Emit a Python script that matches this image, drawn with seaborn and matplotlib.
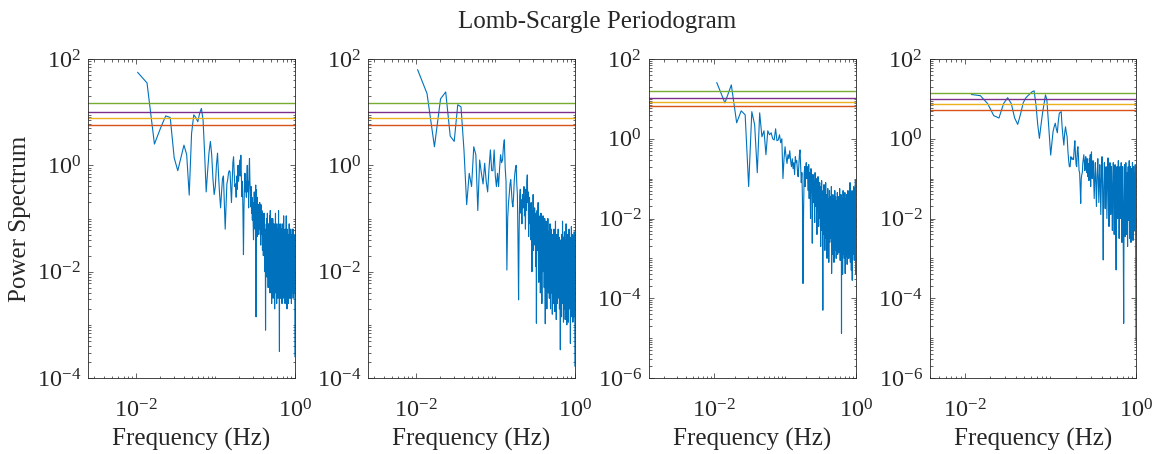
import numpy as np
import matplotlib
matplotlib.use("Agg")
import matplotlib.pyplot as plt
import seaborn as sns
from matplotlib.ticker import FixedLocator, LogLocator, NullFormatter, LogFormatterSciNotation

# Lomb-Scargle spectra of four records, evaluated on a uniform frequency grid
FREQ_STEP = 0.0033  # Hz
start_freqs = [0.0105, 0.0105, 0.0109, 0.0120]

# log10 of the normalised power at each grid frequency
log_power_1 = [
    1.75, 1.55, 0.40, 0.70, 0.93, 0.90, 0.14, -0.10, 0.15, 0.38,
    0.20, -0.56, 0.60, 0.95, 0.90, 0.82, 0.98, 1.07, 0.85, 0.20,
    -0.50, -0.10, 0.25, 0.45, 0.20, -0.25, -0.55, -0.40, 0.00, 0.23,
    -0.20, -0.55, -0.80, -0.50, -0.25, -0.20, -0.70, -1.20, -0.75, -0.35,
    -0.27, -0.15, -0.10, -0.12, -0.40, -0.70, -0.30, 0.05, 0.16, -0.15,
    -0.40, -0.35, -0.60, -0.20, -0.45, 0.00, -0.30, -0.10, 0.10, -0.20,
    0.19, -0.20, -0.59, -0.30, -0.90, -1.68, -0.80, -0.40, -0.15, -0.50,
    -0.30, -0.60, -0.20, 0.00, -0.50, -0.30, -0.80, -0.10, 0.13, -0.30,
    -0.50, -0.78, -0.40, -0.90, -0.60, -1.03, -0.70, -1.10, -1.40, -0.80,
    -0.50, -0.90, -1.20, -0.60, -0.37, -2.85, -0.46, -1.00, -0.60, -1.34,
    -0.80, -1.10, -0.74, -1.30, -0.90, -1.15, -0.70, -1.20, -0.80, -1.50,
    -0.74, -1.00, -1.30, -0.85, -1.20, -1.60, -0.90, -1.10, -1.70, -1.00,
    -1.20, -0.90, -1.50, -1.10, -2.00, -1.30, -3.10, -1.80, -1.20, -1.60,
    -1.00, -2.10, -1.40, -0.90, -1.70, -1.30, -2.30, -1.10, -1.50, -1.90,
    -1.20, -2.00, -0.95, -1.60, -2.40, -0.85, -1.80, -1.30, -2.20, -1.00,
    -1.50, -2.60, -1.20, -1.90, -1.40, -2.10, -1.00, -1.70, -2.50, -1.30,
    -1.60, -2.30, -1.10, -1.90, -1.40, -2.70, -1.20, -1.80, -2.20, -0.90,
    -1.60, -2.40, -1.30, -2.00, -1.50, -2.60, -1.10, -1.80, -2.30, -1.40,
    -1.90, -1.20, -2.50, -1.60, -2.10, -0.85, -2.40, -1.50, -1.90, -2.80,
    -3.50, -1.30, -1.70, -2.20, -1.10, -2.00, -1.60, -2.50, -1.30, -1.90,
    -1.50, -2.30, -1.20, -2.00, -1.70, -2.60, -1.10, -1.80, -2.20, -1.40,
    -2.00, -1.30, -2.50, -1.60, -1.90, -0.95, -2.30, -1.70, -2.10, -1.40,
    -2.40, -1.30, -1.90, -1.50, -2.60, -1.20, -2.00, -1.70, -2.30, -1.40,
    -1.80, -2.50, -0.95, -2.00, -1.60, -2.20, -1.30, -2.70, -1.50, -1.90,
    -1.20, -2.40, -1.70, -2.00, -1.40, -2.30, -1.60, -2.60, -1.30, -1.90,
    -2.20, -1.50, -2.40, -1.10, -1.80, -2.10, -1.40, -2.50, -1.70, -2.00,
    -1.30, -2.20, -1.60, -2.50, -1.20, -1.90, -2.30, -1.50, -2.00, -1.40,
    -2.60, -1.70, -2.10, -1.30, -2.40, -1.60, -1.90, -2.20, -1.20, -2.00,
    -1.50, -2.30, -1.80, -1.20, -2.50, -1.60, -2.00, -1.40, -2.20, -1.70,
    -2.40, -1.30, -1.90, -2.10, -1.50, -2.30, -1.60, -2.00, -1.80, -3.60,
]

log_power_2 = [
    1.80, 1.35, 0.35, 1.25, 1.38, 0.55, 0.45, 1.14, 1.10, 0.29,
    -0.74, -0.15, -0.40, 0.35, 0.20, -0.85, 0.10, -0.15, -0.35, 0.04,
    -0.30, -0.50, -0.05, 0.29, -0.10, -0.10, 0.29, -0.20, -0.40, -0.15,
    -0.40, -0.05, 0.20, 0.05, 0.10, 0.35, 0.48, -0.05, -0.30, -1.97,
    -1.00, -0.71, -0.55, -0.35, -0.27, -0.50, -0.70, -0.78, -0.60, -0.30,
    -0.15, -0.05, 0.00, -0.35, -0.55, -1.40, -2.53, -1.20, -0.60, -0.45,
    -0.90, -0.65, -1.10, -0.55, -0.80, -0.70, -0.40, -0.95, -0.60, -1.20,
    -0.45, -0.85, -0.30, -0.18, -0.70, -0.50, -1.34, -0.90, -0.60, -1.10,
    -0.75, -1.40, -0.70, -1.00, -2.00, -0.85, -1.25, -0.55, -1.60, -1.00,
    -1.30, -0.80, -1.50, -1.05, -1.90, -0.90, -2.97, -1.20, -0.85, -1.60,
    -1.10, -0.70, -1.45, -2.20, -0.95, -1.30, -1.80, -1.00, -2.40, -1.20,
    -0.90, -1.70, -1.35, -2.60, -1.05, -1.50, -2.00, -0.95, -1.40, -1.85,
    -1.15, -2.30, -1.50, -1.00, -1.90, -2.98, -1.30, -1.70, -1.05, -2.20,
    -1.45, -2.70, -1.20, -1.60, -2.05, -1.00, -1.80, -2.40, -1.35, -1.95,
    -1.25, -2.50, -1.60, -2.10, -1.10, -1.85, -2.70, -1.40, -2.20, -1.70,
    -1.20, -2.40, -1.55, -2.00, -2.80, -1.30, -1.90, -2.30, -1.45, -2.60,
    -1.70, -2.10, -1.20, -2.50, -1.90, -1.40, -2.75, -1.60, -2.20, -1.05,
    -1.80, -2.45, -1.50, -2.90, -1.95, -1.30, -2.30, -1.75, -2.60, -1.40,
    -2.00, -1.60, -2.50, -1.20, -2.20, -2.40, -1.70, -2.40, -1.35, -2.00,
    -2.70, -1.50, -2.25, -1.80, -2.90, -3.47, -2.10, -1.65, -2.50, -1.40,
    -2.30, -1.75, -2.85, -1.30, -2.00, -2.55, -1.50, -2.20, -1.05, -1.90,
    -2.60, -1.45, -2.35, -1.70, -2.95, -1.35, -2.05, -2.50, -1.60, -2.20,
    -1.25, -2.70, -1.80, -2.30, -1.50, -2.90, -2.00, -1.40, -2.45, -1.75,
    -2.20, -1.10, -2.60, -1.85, -2.35, -1.55, -3.00, -1.70, -2.15, -1.45,
    -2.50, -1.90, -2.25, -1.30, -2.80, -1.65, -2.10, -2.95, -1.50, -2.35,
    -1.80, -2.60, -1.20, -2.15, -1.95, -2.70, -1.55, -2.40, -1.35, -2.05,
    -2.65, -1.60, -3.35, -1.85, -2.30, -1.40, -2.75, -2.00, -1.55, -2.50,
    -1.15, -2.20, -1.90, -2.85, -1.45, -2.35, -1.70, -2.60, -2.10, -1.30,
    -2.45, -1.80, -2.95, -1.60, -2.20, -1.35, -2.70, -1.95, -2.40, -1.50,
    -2.85, -1.75, -2.15, -1.25, -2.55, -1.90, -2.30, -1.65, -2.60, -3.78,
]

log_power_3 = [
    1.41, 0.90, 1.35, 0.40, 0.70, 0.60, -1.20, 0.68, 0.35, -0.85,
    0.65, 0.05, 0.20, -0.40, 0.20, 0.10, 0.15, 0.00, -0.03, 0.25,
    -0.05, -0.03, 0.10, -0.10, 0.00, -1.00, -0.50, -0.20, -0.45, -0.62,
    -0.40, -0.50, -0.30, -0.55, -0.70, -0.50, -0.75, -0.60, -0.90, -0.45,
    -0.60, -0.55, -0.80, -0.95, -0.70, -0.40, -0.28, -0.70, -1.10, -0.85,
    -1.50, -3.63, -1.80, -0.90, -0.70, -1.20, -0.80, -0.60, -1.00, -0.70,
    -0.95, -1.30, -0.65, -1.50, -0.85, -1.10, -2.00, -0.75, -1.35, -0.90,
    -2.62, -1.20, -0.90, -1.60, -1.05, -1.40, -2.10, -0.85, -1.30, -1.70,
    -1.00, -1.55, -2.40, -1.15, -1.80, -0.95, -1.45, -2.20, -1.25, -1.65,
    -1.10, -2.00, -1.40, -2.70, -1.20, -1.75, -1.05, -2.30, -1.50, -1.90,
    -4.30, -1.30, -1.70, -2.40, -1.15, -2.00, -1.60, -2.80, -1.35, -1.90,
    -1.10, -2.50, -1.70, -2.20, -1.40, -3.00, -1.55, -2.10, -1.25, -1.85,
    -2.40, -1.50, -3.10, -1.80, -2.20, -1.30, -2.60, -1.90, -1.45, -2.00,
    -2.00, -1.65, -2.50, -1.20, -3.38, -2.80, -1.55, -2.30, -1.75, -2.90,
    -1.40, -2.25, -1.85, -2.60, -1.50, -3.10, -2.00, -1.60, -2.45, -1.30,
    -2.80, -1.95, -2.20, -1.45, -2.65, -1.75, -3.00, -2.10, -1.55, -2.40,
    -1.85, -2.70, -1.35, -2.20, -2.90, -1.60, -2.40, -2.40, -1.90, -2.50,
    -1.45, -2.15, -2.85, -1.70, -2.30, -1.25, -2.60, -2.00, -3.05, -1.55,
    -2.25, -1.80, -2.75, -1.40, -2.45, -2.05, -4.88, -1.65, -2.35, -1.90,
    -2.70, -1.50, -2.20, -3.40, -1.85, -2.55, -1.30, -2.10, -2.90, -1.60,
    -2.40, -1.95, -2.65, -1.45, -3.00, -2.15, -1.75, -2.80, -1.35, -2.30,
    -3.38, -1.90, -2.50, -1.60, -2.20, -2.95, -1.50, -2.35, -1.85, -2.70,
    -1.40, -2.10, -2.60, -1.70, -3.15, -2.00, -1.55, -2.45, -1.90, -2.85,
    -1.30, -2.25, -1.80, -2.70, -1.50, -2.40, -3.00, -1.65, -2.15, -2.55,
    -1.35, -2.30, -1.85, -2.90, -1.60, -2.20, -1.10, -2.65, -2.00, -3.10,
    -1.45, -2.35, -1.75, -2.80, -1.55, -2.50, -1.95, -3.30, -1.40, -2.25,
    -2.05, -1.60, -2.75, -1.30, -2.40, -3.55, -1.85, -2.15, -1.50, -2.60,
    -1.95, -2.90, -1.40, -2.30, -1.70, -2.85, -2.10, -1.55, -2.45, -1.20,
    -2.65, -1.80, -2.20, -3.05, -1.45, -2.50, -1.90, -2.75, -1.35, -2.30,
    -1.65, -2.95, -1.50, -2.20, -1.05, -2.60, -1.85, -3.38, -1.60, -2.40,
]

log_power_4 = [
    1.11, 1.08, 0.88, 0.58, 0.52, 0.88, 1.03, 0.88, 0.52, 0.36,
    0.62, 0.90, 1.02, 1.08, 1.13, 1.18, 1.20, 0.85, 0.35, 0.01,
    0.35, 0.65, 0.88, 1.10, 0.98, 0.50, 0.00, -0.41, -0.10, 0.18,
    0.30, 0.39, 0.25, 0.15, 0.45, 0.64, 0.66, 0.68, 0.30, 0.05,
    -0.16, 0.15, 0.30, 0.15, 0.05, -0.30, -0.55, -0.70, -0.70, -0.45,
    -0.50, -0.52, -0.48, -0.52, -0.25, -0.05, -0.40, -0.65, -0.70, -0.30,
    -0.20, -0.45, -0.80, -0.85, -1.20, -1.62, -1.00, -0.90, -0.85, -0.60,
    -0.50, -0.40, -0.60, -0.80, -0.55, -0.45, -0.75, -0.85, -0.50, -0.95,
    -0.62, -0.70, -1.05, -0.50, -0.85, -0.40, -1.20, -0.65, -0.33, -0.90,
    -1.00, -0.75, -0.55, -0.80, -1.20, -1.50, -1.10, -0.80, -0.60, -0.90,
    -1.35, -1.70, -1.30, -0.95, -0.70, -0.50, -0.85, -1.25, -1.60, -1.20,
    -0.90, -0.65, -0.90, -1.40, -1.90, -1.45, -1.00, -0.75, -0.45, -0.80,
    -1.30, -2.10, -3.04, -1.90, -1.20, -0.85, -0.60, -0.90, -1.40, -1.75,
    -1.30, -0.95, -0.70, -1.00, -1.50, -2.00, -1.55, -1.05, -0.75, -0.48,
    -0.75, -1.15, -1.70, -2.20, -1.60, -1.10, -0.80, -0.60, -0.95, -1.45,
    -1.90, -1.40, -1.00, -0.70, -0.95, -1.35, -1.85, -2.30, -1.70, -1.20,
    -0.85, -0.60, -0.90, -1.30, -1.80, -2.40, -1.75, -1.25, -0.90, -0.65,
    -1.00, -1.55, -2.10, -2.80, -3.29, -2.30, -1.50, -1.00, -0.70, -1.05,
    -1.50, -2.00, -1.50, -1.05, -0.75, -0.55, -0.85, -1.30, -1.85, -2.50,
    -1.90, -1.30, -0.95, -0.70, -1.00, -1.45, -2.00, -1.55, -1.10, -0.80,
    -0.60, -0.95, -1.45, -2.05, -2.60, -1.90, -1.35, -0.95, -0.70, -1.05,
    -1.50, -2.10, -2.90, -3.80, -4.63, -3.20, -2.00, -1.30, -0.90, -0.65,
    -0.95, -1.40, -1.95, -2.45, -1.80, -1.25, -0.85, -0.60, -0.90, -1.35,
    -1.90, -2.40, -1.75, -1.20, -0.85, -1.10, -1.60, -2.20, -2.70, -2.00,
    -1.40, -0.95, -0.70, -1.00, -1.50, -2.05, -1.55, -1.05, -0.75, -0.55,
    -0.90, -1.40, -1.95, -2.50, -1.85, -1.30, -0.95, -0.70, -1.05, -1.55,
    -2.10, -2.60, -1.90, -1.35, -1.00, -0.75, -1.10, -1.60, -2.15, -1.60,
    -1.10, -0.80, -0.60, -0.95, -1.45, -2.00, -2.55, -1.85, -1.30, -0.90,
    -0.70, -1.05, -1.55, -2.10, -1.60, -1.15, -0.85, -1.20, -1.75, -2.30,
    -1.70, -1.20, -0.85, -0.65, -1.00, -1.50, -2.10, -2.80, -3.80, -5.05,
]

# significance levels of each periodogram (power units)
thresholds = [
    [5.7, 7.7, 10.1, 14.7],
    [5.7, 7.7, 10.1, 14.7],
    [6.5, 8.3, 10.7, 15.5],
    [5.3, 7.3, 9.7, 14.3],
]
threshold_colors = ["#D95319", "#EDB120", "#7E2F8E", "#77AC30"]
spectrum_color = "#0072BD"

x_limits = [(0.0025, 1.0), (0.0025, 1.0), (0.00119, 1.0), (0.0039, 1.0)]
y_limits = [(1e-4, 1e2), (1e-4, 1e2), (1e-6, 1e2), (1e-6, 1e2)]
y_major = [[1e-4, 1e-2, 1e0, 1e2], [1e-4, 1e-2, 1e0, 1e2],
           [1e-6, 1e-4, 1e-2, 1e0, 1e2], [1e-6, 1e-4, 1e-2, 1e0, 1e2]]
x_major = [1e-2, 1e0]

sns.set_style("ticks")
plt.rcParams["font.family"] = ["Liberation Serif", "DejaVu Serif"]
plt.rcParams["mathtext.fontset"] = "custom"
plt.rcParams["mathtext.rm"] = "Liberation Serif"
plt.rcParams["mathtext.it"] = "Liberation Serif:italic"
plt.rcParams["mathtext.bf"] = "Liberation Serif:bold"
plt.rcParams["axes.unicode_minus"] = False
plt.rcParams["axes.edgecolor"] = "#262626"
plt.rcParams["axes.linewidth"] = 0.6

fig = plt.figure(figsize=(11.57, 4.54), dpi=100)
axes_boxes = [
    (88, 295), (368, 575), (648.5, 856), (929.5, 1136),
]
W, H = 1157.0, 454.0
top_px, bottom_px = 59.0, 378.0

spectra = [log_power_1, log_power_2, log_power_3, log_power_4]
tick_fs = 17.5
label_fs = 18

for k, (lp, f0) in enumerate(zip(spectra, start_freqs)):
    left, right = axes_boxes[k]
    ax = fig.add_axes([left / W, 1 - bottom_px / H, (right - left) / W, (bottom_px - top_px) / H])
    ax.set_xscale("log")
    ax.set_yscale("log")
    freqs = f0 + FREQ_STEP * np.arange(len(lp))
    power = 10.0 ** np.asarray(lp)
    sns.lineplot(x=freqs, y=power, ax=ax, color=spectrum_color, linewidth=0.8,
                 estimator=None, sort=False)
    for level, col in zip(thresholds[k], threshold_colors):
        ax.axhline(level, color=col, linewidth=1.0)

    ax.set_xlim(*x_limits[k])
    ax.set_ylim(*y_limits[k])

    ax.xaxis.set_major_locator(FixedLocator(x_major))
    ax.xaxis.set_major_formatter(LogFormatterSciNotation())
    ax.xaxis.set_minor_locator(LogLocator(base=10, subs=np.arange(1, 10), numticks=50))
    ax.xaxis.set_minor_formatter(NullFormatter())
    ax.yaxis.set_major_locator(FixedLocator(y_major[k]))
    ax.yaxis.set_major_formatter(LogFormatterSciNotation())
    ax.yaxis.set_minor_locator(LogLocator(base=10, subs=np.arange(1, 10), numticks=50))
    ax.yaxis.set_minor_formatter(NullFormatter())

    ax.tick_params(which="both", direction="in", top=True, right=True,
                   color="#262626", width=0.5)
    ax.tick_params(which="major", length=3.5, labelsize=tick_fs)
    ax.tick_params(which="minor", length=1.8)
    ax.tick_params(axis="x", which="major", pad=15)
    ax.tick_params(axis="y", which="major", pad=5)
    for s in ax.spines.values():
        s.set_visible(True)

    ax.set_xlabel("Frequency (Hz)", fontsize=label_fs, labelpad=4)
    if k == 0:
        ax.set_ylabel("Power Spectrum", fontsize=label_fs, labelpad=4)
    else:
        ax.set_ylabel("")

fig.suptitle("Lomb-Scargle Periodogram", fontsize=label_fs, x=0.516, y=0.975, va="top")
fig.savefig("out.png", dpi=100)
